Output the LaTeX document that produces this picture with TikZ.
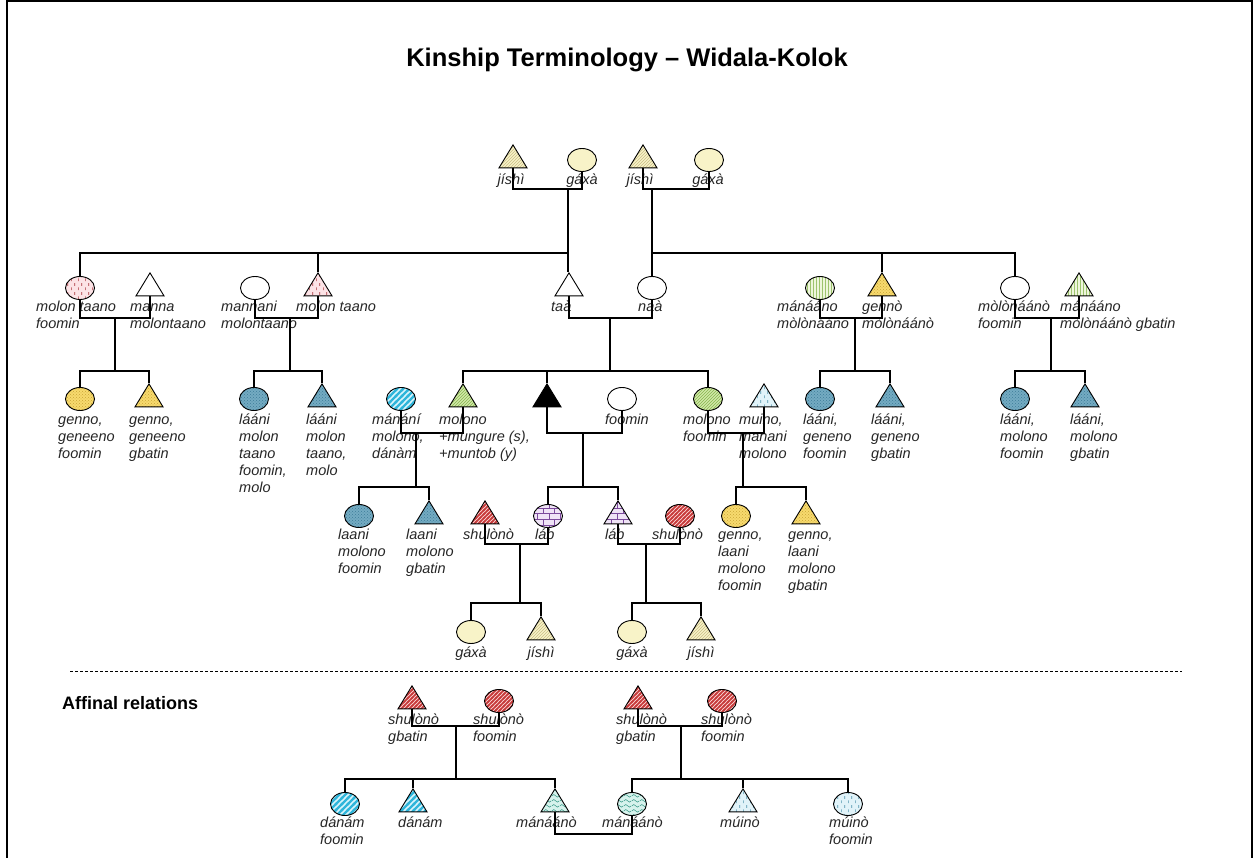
\documentclass[tikz,border=0pt]{standalone}
\usepackage{fontspec}
\setmainfont{Liberation Sans}
\usetikzlibrary{shapes.geometric,patterns}

% short staggered vertical dashes
\pgfdeclarepatternformonly{vdash}{\pgfqpoint{0pt}{0pt}}{\pgfqpoint{7pt}{9pt}}{\pgfqpoint{7pt}{9pt}}{%
  \pgfsetlinewidth{0.7pt}%
  \pgfpathmoveto{\pgfqpoint{1.8pt}{1pt}}\pgfpathlineto{\pgfqpoint{1.8pt}{4pt}}%
  \pgfpathmoveto{\pgfqpoint{5.3pt}{5.5pt}}\pgfpathlineto{\pgfqpoint{5.3pt}{8.5pt}}%
  \pgfusepath{stroke}}
% broad diagonal stripes
\pgfdeclarepatternformonly{widestripes}{\pgfqpoint{-2pt}{-2pt}}{\pgfqpoint{8pt}{8pt}}{\pgfqpoint{6pt}{6pt}}{%
  \pgfsetlinewidth{2.2pt}%
  \pgfpathmoveto{\pgfqpoint{-1pt}{-1pt}}\pgfpathlineto{\pgfqpoint{7pt}{7pt}}%
  \pgfusepath{stroke}}
% narrow diagonal stripes
\pgfdeclarepatternformonly{redstripes}{\pgfqpoint{-2pt}{-2pt}}{\pgfqpoint{6pt}{6pt}}{\pgfqpoint{4pt}{4pt}}{%
  \pgfsetlinewidth{1.5pt}%
  \pgfpathmoveto{\pgfqpoint{-1pt}{-1pt}}\pgfpathlineto{\pgfqpoint{5pt}{5pt}}%
  \pgfusepath{stroke}}
% wavy lines
\pgfdeclarepatternformonly{waves}{\pgfqpoint{0pt}{0pt}}{\pgfqpoint{8pt}{5pt}}{\pgfqpoint{8pt}{5pt}}{%
  \pgfsetlinewidth{0.6pt}%
  \pgfpathmoveto{\pgfqpoint{0pt}{2.5pt}}%
  \pgfpathcurveto{\pgfqpoint{2pt}{4.5pt}}{\pgfqpoint{2pt}{4.5pt}}{\pgfqpoint{4pt}{2.5pt}}%
  \pgfpathcurveto{\pgfqpoint{6pt}{0.5pt}}{\pgfqpoint{6pt}{0.5pt}}{\pgfqpoint{8pt}{2.5pt}}%
  \pgfusepath{stroke}}

\definecolor{pinkbg}{HTML}{FCE3E6}
\definecolor{pinkfg}{HTML}{A8343C}
\definecolor{paleyellow}{HTML}{F8F3C8}
\definecolor{paleline}{HTML}{C9BE86}
\definecolor{goldbg}{HTML}{F7DA6E}
\definecolor{goldfg}{HTML}{C9A536}
\definecolor{bluebg}{HTML}{74ABC2}
\definecolor{bluefg}{HTML}{3D7C98}
\definecolor{cyanbg}{HTML}{D9F4FB}
\definecolor{cyanfg}{HTML}{2FB5DA}
\definecolor{greenbg}{HTML}{D2E9A8}
\definecolor{greenfg}{HTML}{86B54E}
\definecolor{palegreen}{HTML}{EEF6DC}
\definecolor{greenline}{HTML}{9DC46E}
\definecolor{redbg}{HTML}{F9D2D2}
\definecolor{redfg}{HTML}{C73B3B}
\definecolor{purplebg}{HTML}{EFE3F6}
\definecolor{purplefg}{HTML}{7B4A9C}
\definecolor{lbluebg}{HTML}{E1F3F9}
\definecolor{lbluefg}{HTML}{4F93AC}
\definecolor{tealbg}{HTML}{D6F2EC}
\definecolor{tealfg}{HTML}{3A9A88}

\newcommand\labfont{\itshape\fontsize{14.5}{17}\selectfont}
% label whose first baseline sits at the given y
\newcommand\lab[4]{\node[lab,anchor=north west] (#1) at (#2,#3-11.9) {\strut #4};}
\newcommand\clab[4]{\node[lab,anchor=north] (#1) at (#2,#3-11.9) {\strut #4};}

\begin{document}
\begin{tikzpicture}[x=1pt,y=-1pt,
  lab/.style={font=\labfont, align=left, inner sep=0pt, text=black!85},
  tri/.style={draw, line width=0.9pt, isosceles triangle, isosceles triangle stretches,
    shape border rotate=90, minimum width=28pt, minimum height=23pt, inner sep=0pt},
  ell/.style={draw, line width=0.9pt, ellipse, minimum width=29pt, minimum height=23pt, inner sep=0pt},
  link/.style={line width=1.1pt, line cap=rect},
  plain/.style={fill=white},
  pinkdash/.style={preaction={fill=pinkbg}, pattern=vdash, pattern color=pinkfg},
  paleY/.style={fill=paleyellow},
  paleYh/.style={preaction={fill=paleyellow}, pattern=north east lines, pattern color=paleline},
  yellowd/.style={preaction={fill=goldbg}, pattern=crosshatch dots, pattern color=goldfg},
  blued/.style={preaction={fill=bluebg}, pattern=crosshatch dots, pattern color=bluefg},
  cyans/.style={preaction={fill=cyanbg}, pattern=widestripes, pattern color=cyanfg},
  greend/.style={preaction={fill=greenbg}, pattern=north east lines, pattern color=greenfg},
  greenv/.style={preaction={fill=palegreen}, pattern=vertical lines, pattern color=greenline},
  reds/.style={preaction={fill=redbg}, pattern=redstripes, pattern color=redfg},
  purpleb/.style={preaction={fill=purplebg}, pattern=bricks, pattern color=purplefg},
  lblue/.style={preaction={fill=lbluebg}, pattern=vdash, pattern color=lbluefg},
  tealw/.style={preaction={fill=tealbg}, pattern=waves, pattern color=tealfg},
  egofill/.style={fill=black}]

\useasboundingbox (0,0) rectangle (1256,858);
\fill[white] (0,0) rectangle (1256,858);
% page frame
\draw[line width=2pt] (7,870) -- (7,1.5) -- (1252,1.5) -- (1252,870);

\node[font=\bfseries\fontsize{25.5}{30}\selectfont, inner sep=0pt] (title) at (627,60) {Kinship Terminology – Widala-Kolok};

% ---------- grandparents ----------
\node[tri,paleYh] (jA) at (513,160) {};
\node[ell,paleY]  (gA) at (582,160) {};
\node[tri,paleYh] (jB) at (643,160) {};
\node[ell,paleY]  (gB) at (709,160) {};
\clab{ljA}{511}{184}{jíshì}
\clab{lgA}{582}{184}{gáxà}
\clab{ljB}{640}{184}{jíshì}
\clab{lgB}{708}{184}{gáxà}

% ---------- parents' generation ----------
\node[ell,pinkdash] (mtf)     at (80,288) {};
\node[tri,plain]    (manna)   at (150,288) {};
\node[ell,plain]    (mannani) at (255,288) {};
\node[tri,pinkdash] (mtt)     at (318,288) {};
\node[tri,plain]    (taa)     at (569,288) {};
\node[ell,plain]    (naa)     at (652,288) {};
\node[ell,greenv]   (mana)    at (820,288) {};
\node[tri,yellowd]  (genT)    at (882,288) {};
\node[ell,plain]    (mol2)    at (1015,288) {};
\node[tri,greenv]   (manaT)   at (1079,288) {};
\lab{lmtf}{36}{311}{molon taano\\foomin}
\lab{lmanna}{130}{311}{manna\\molontaano}
\lab{lmannani}{221}{311}{mannani\\molontaano}
\lab{lmtt}{296}{311}{molon taano}
\lab{ltaa}{551}{311}{taà}
\lab{lnaa}{638}{311}{naà}
\lab{lmana}{777}{311}{mánááno\\mòlònááno}
\lab{lgenT}{862}{311}{gennò\\mòlònáánò}
\lab{lmol2}{978}{311}{mòlònáánò\\foomin}
\lab{lmanaT}{1060}{311}{mánááno\\mòlònáánò gbatin}

% ---------- ego's generation ----------
\node[ell,yellowd] (gY)    at (80,399) {};
\node[tri,yellowd] (gYT)   at (149,399) {};
\node[ell,blued]   (lB1)   at (254,399) {};
\node[tri,blued]   (lB1T)  at (322,399) {};
\node[ell,cyans]   (mnn)   at (401,399) {};
\node[tri,greend]  (molT)  at (463,399) {};
\node[tri,egofill] (ego)   at (547,399) {};
\node[ell,plain]   (foo)   at (622,399) {};
\node[ell,greend]  (molF)  at (708,399) {};
\node[tri,lblue]   (muino) at (764,399) {};
\node[ell,blued]   (lG1)   at (820,399) {};
\node[tri,blued]   (lG1T)  at (890,399) {};
\node[ell,blued]   (lM1)   at (1015,399) {};
\node[tri,blued]   (lM1T)  at (1085,399) {};
\lab{lgY}{58}{424}{genno,\\geneeno\\foomin}
\lab{lgYT}{129}{424}{genno,\\geneeno\\gbatin}
\lab{llB1}{239}{424}{lááni\\molon\\taano\\foomin,\\molo}
\lab{llB1T}{306}{424}{lááni\\molon\\taano,\\molo}
\lab{lmnn}{372}{424}{mánání\\molono,\\dánàm}
\lab{lmolT}{439}{424}{molono\\+mungure (s),\\+muntob (y)}
\lab{lfoo}{605}{424}{foomin}
\lab{lmolF}{683}{424}{molono\\foomin}
\lab{lmuino}{739}{424}{muino,\\manani\\molono}
\lab{llG1}{803}{424}{lááni,\\geneno\\foomin}
\lab{llG1T}{871}{424}{lááni,\\geneno\\gbatin}
\lab{llM1}{1000}{424}{lááni,\\molono\\foomin}
\lab{llM1T}{1070}{424}{lááni,\\molono\\gbatin}

% ---------- children's generation ----------
\node[ell,blued]   (lD1)  at (359,516) {};
\node[tri,blued]   (lD1T) at (429,516) {};
\node[tri,reds]    (shA)  at (485,516) {};
\node[ell,purpleb] (labE) at (548,516) {};
\node[tri,purpleb] (labT) at (618,516) {};
\node[ell,reds]    (shB)  at (680,516) {};
\node[ell,yellowd] (gY2)  at (736,516) {};
\node[tri,yellowd] (gY2T) at (806,516) {};
\lab{llD1}{338}{539}{laani\\molono\\foomin}
\lab{llD1T}{406}{539}{laani\\molono\\gbatin}
\lab{lshA}{463}{539}{shulònò}
\lab{llabE}{535}{539}{láb}
\lab{llabT}{605}{539}{láb}
\lab{lshB}{652}{539}{shulònò}
\lab{lgY2}{718}{539}{genno,\\laani\\molono\\foomin}
\lab{lgY2T}{788}{539}{genno,\\laani\\molono\\gbatin}

% ---------- grandchildren ----------
\node[ell,paleY]  (gE1) at (471,632) {};
\node[tri,paleYh] (jE1) at (541,632) {};
\node[ell,paleY]  (gE2) at (632,632) {};
\node[tri,paleYh] (jE2) at (701,632) {};
\clab{lgE1}{471}{657}{gáxà}
\clab{ljE1}{541}{657}{jíshì}
\clab{lgE2}{632}{657}{gáxà}
\clab{ljE2}{701}{657}{jíshì}

% ---------- affinal relations ----------
\draw[line width=0.8pt, dash pattern=on 3pt off 2pt] (70,671) -- (1182,671);
\node[font=\bfseries\fontsize{18}{21}\selectfont, anchor=base west, inner sep=0pt] (affinal) at (62,709.5) {Affinal relations};

\node[tri,reds]  (sA1) at (412,701) {};
\node[ell,reds]  (sA2) at (499,701) {};
\node[tri,reds]  (sB1) at (638,701) {};
\node[ell,reds]  (sB2) at (722,701) {};
\lab{lsA1}{388}{724}{shulònò\\gbatin}
\lab{lsA2}{473}{724}{shulònò\\foomin}
\lab{lsB1}{616}{724}{shulònò\\gbatin}
\lab{lsB2}{701}{724}{shulònò\\foomin}

\node[ell,cyans]  (dnF) at (345,804) {};
\node[tri,cyans]  (dnT) at (413,804) {};
\node[tri,tealw]  (mnT) at (555,804) {};
\node[ell,tealw]  (mnE) at (632,804) {};
\node[tri,lblue]  (muT) at (743,804) {};
\node[ell,lblue]  (muF) at (848,804) {};
\lab{ldnF}{320}{827}{dánám\\foomin}
\lab{ldnT}{398}{827}{dánám}
\lab{lmnT}{516}{827}{mánáánò}
\lab{lmnE}{602}{827}{mánáánò}
\lab{lmuT}{720}{827}{múinò}
\lab{lmuF}{829}{827}{múinò\\foomin}

% ---------- line levels and descent points ----------
\coordinate (yA)  at (0,189);
\coordinate (yB)  at (0,253);
\coordinate (yBm) at (0,318);
\coordinate (yC)  at (0,371);
\coordinate (yCm) at (0,433);
\coordinate (yD)  at (0,487);
\coordinate (yDm) at (0,544);
\coordinate (yE)  at (0,603);
\coordinate (yF)  at (0,726);
\coordinate (yG)  at (0,779);
\coordinate (yGm) at (0,834);

\coordinate (kA)  at (568,189);
\coordinate (kB)  at (652,189);
\coordinate (k1)  at (115,318);
\coordinate (k2)  at (290,318);
\coordinate (k3)  at (610,318);
\coordinate (k4)  at (855,318);
\coordinate (k5)  at (1051,318);
\coordinate (k6)  at (416,433);
\coordinate (k7)  at (583,433);
\coordinate (k8)  at (743,433);
\coordinate (k9)  at (520,544);
\coordinate (k10) at (646,544);
\coordinate (k11) at (456,726);
\coordinate (k12) at (681,726);

% ---------- connectors ----------
% grandparent couples
\draw[link] (jA.south) -- (jA.south |- yA) -| (gA.south);
\draw[link] (jB.south) -- (jB.south |- yA) -| (gB.south);
\draw[link] (kA) -- (kA |- taa.north);
\draw[link] (kB) -- (kB |- naa.north);
% sibling lines of the parents
\draw[link] (mtf.north) -- (mtf.north |- yB) -- (kA |- yB);
\draw[link] (mtt.north) -- (mtt.north |- yB);
\draw[link] (kB |- yB) -- (mol2.north |- yB) -- (mol2.north);
\draw[link] (genT.north) -- (genT.north |- yB);
% parents' couples
\draw[link] (mtf.south) -- (mtf.south |- yBm) -| (manna.south);
\draw[link] (mannani.south) -- (mannani.south |- yBm) -| (mtt.south);
\draw[link] (taa.south) -- (taa.south |- yBm) -| (naa.south);
\draw[link] (mana.south) -- (mana.south |- yBm) -| (genT.south);
\draw[link] (mol2.south) -- (mol2.south |- yBm) -| (manaT.south);
% cousins and siblings
\draw[link] (k1) -- (k1 |- yC);
\draw[link] (gY.north) -- (gY.north |- yC) -- (gYT.north |- yC) -- (gYT.north);
\draw[link] (k2) -- (k2 |- yC);
\draw[link] (lB1.north) -- (lB1.north |- yC) -- (lB1T.north |- yC) -- (lB1T.north);
\draw[link] (k3) -- (k3 |- yC);
\draw[link] (molT.north) -- (molT.north |- yC) -- (molF.north |- yC) -- (molF.north);
\draw[link] (ego.north) -- (ego.north |- yC);
\draw[link] (k4) -- (k4 |- yC);
\draw[link] (lG1.north) -- (lG1.north |- yC) -- (lG1T.north |- yC) -- (lG1T.north);
\draw[link] (k5) -- (k5 |- yC);
\draw[link] (lM1.north) -- (lM1.north |- yC) -- (lM1T.north |- yC) -- (lM1T.north);
% couples of ego's generation
\draw[link] (mnn.south) -- (mnn.south |- yCm) -| (molT.south);
\draw[link] (ego.south) -- (ego.south |- yCm) -| (foo.south);
\draw[link] (molF.south) -- (molF.south |- yCm) -| (muino.south);
% children
\draw[link] (k6) -- (k6 |- yD);
\draw[link] (lD1.north) -- (lD1.north |- yD) -- (lD1T.north |- yD) -- (lD1T.north);
\draw[link] (k7) -- (k7 |- yD);
\draw[link] (labE.north) -- (labE.north |- yD) -- (labT.north |- yD) -- (labT.north);
\draw[link] (k8) -- (k8 |- yD);
\draw[link] (gY2.north) -- (gY2.north |- yD) -- (gY2T.north |- yD) -- (gY2T.north);
% children's couples
\draw[link] (shA.south) -- (shA.south |- yDm) -| (labE.south);
\draw[link] (labT.south) -- (labT.south |- yDm) -| (shB.south);
% grandchildren
\draw[link] (k9) -- (k9 |- yE);
\draw[link] (gE1.north) -- (gE1.north |- yE) -- (jE1.north |- yE) -- (jE1.north);
\draw[link] (k10) -- (k10 |- yE);
\draw[link] (gE2.north) -- (gE2.north |- yE) -- (jE2.north |- yE) -- (jE2.north);
% affinal couples and their children
\draw[link] (sA1.south) -- (sA1.south |- yF) -| (sA2.south);
\draw[link] (sB1.south) -- (sB1.south |- yF) -| (sB2.south);
\draw[link] (k11) -- (k11 |- yG);
\draw[link] (k12) -- (k12 |- yG);
\draw[link] (dnF.north) -- (dnF.north |- yG) -- (mnT.north |- yG) -- (mnT.north);
\draw[link] (dnT.north) -- (dnT.north |- yG);
\draw[link] (mnE.north) -- (mnE.north |- yG) -- (muF.north |- yG) -- (muF.north);
\draw[link] (muT.north) -- (muT.north |- yG);
\draw[link] (mnT.south) -- (mnT.south |- yGm) -| (mnE.south);
\end{tikzpicture}
\end{document}
